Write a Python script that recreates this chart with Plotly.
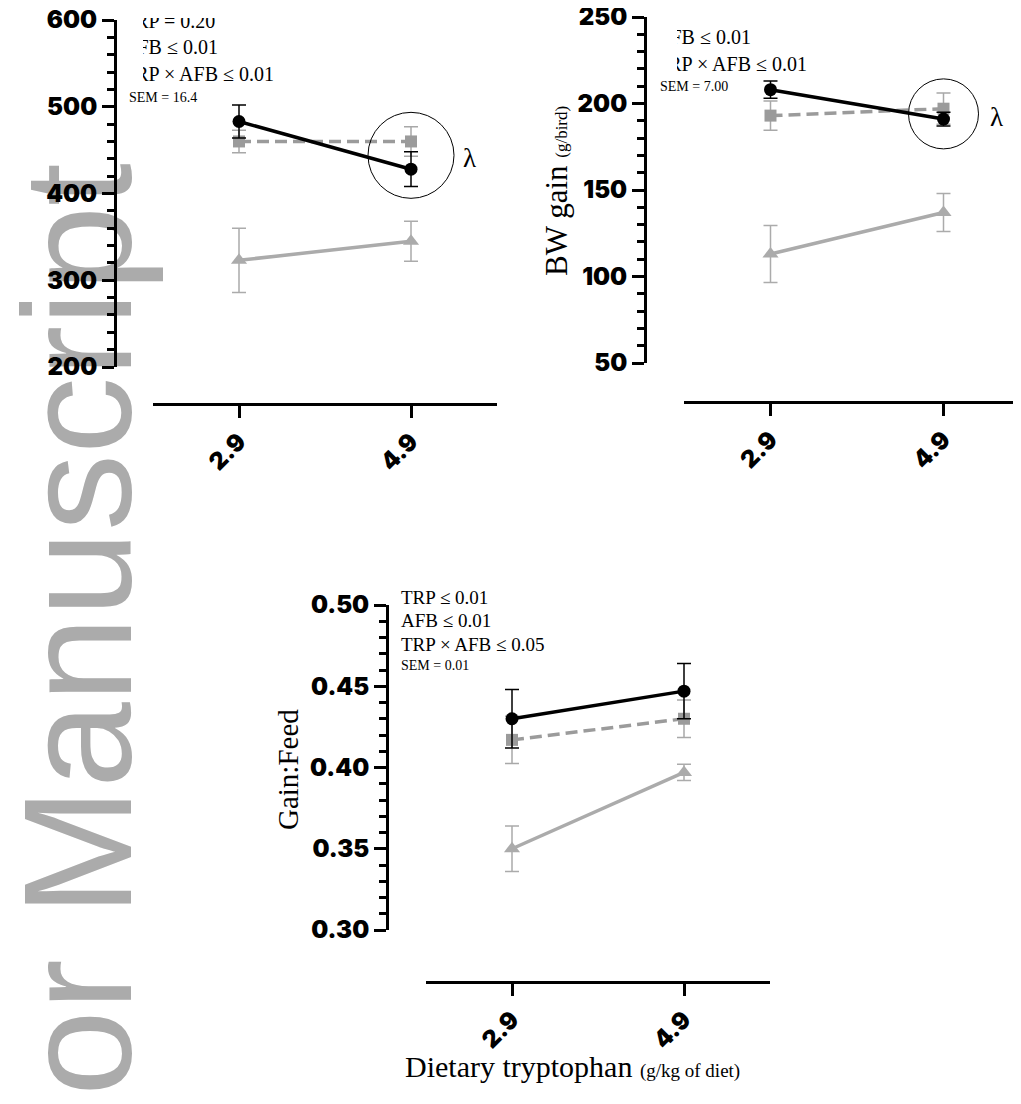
import plotly.graph_objects as go

# The page body has an 8px default margin; work in screen pixels and convert.
OFF = 8
W, H = 1021 - OFF, 1104 - OFF

def px(x):
    return (x - OFF) / W

def py(y):
    return 1 - (y - OFF) / H

# ---------------- data ----------------
trp_levels = [2.9, 4.9]
trp_ticktext = ["2.9", "4.9"]

# Panel A: feed intake (g/bird)
fi_circle = [483, 428]
fi_circle_err = [19, 20]
fi_square = [460, 460]
fi_square_err = [13, 17]
fi_triangle = [323, 345]
fi_triangle_err = [37, 23]
fi_yticks = [200, 300, 400, 500, 600]
fi_stats = ["TRP = 0.20", "AFB \u2264 0.01", "TRP \u00d7 AFB \u2264 0.01"]
fi_sem = "SEM = 16.4"

# Panel B: BW gain (g/bird)
bw_circle = [208, 191]
bw_circle_err = [5, 4]
bw_square = [193, 197]
bw_square_err = [8.5, 9]
bw_triangle = [113, 137]
bw_triangle_err = [16.5, 11]
bw_yticks = [50, 100, 150, 200, 250]
bw_stats = ["AFB \u2264 0.01", "TRP \u00d7 AFB \u2264 0.01"]
bw_sem = "SEM = 7.00"

# Panel C: gain:feed
gf_circle = [0.430, 0.447]
gf_circle_err = [0.018, 0.017]
gf_square = [0.417, 0.430]
gf_square_err = [0.0145, 0.0115]
gf_triangle = [0.350, 0.397]
gf_triangle_err = [0.014, 0.005]
gf_yticks = [0.30, 0.35, 0.40, 0.45, 0.50]
gf_yticktext = ["0.30", "0.35", "0.40", "0.45", "0.50"]
gf_stats = ["TRP \u2264 0.01", "AFB \u2264 0.01", "TRP \u00d7 AFB \u2264 0.05"]
gf_sem = "SEM = 0.01"

# ---------------- styles ----------------
BLACK = "#000000"
SQ_COL = "#9b9b9b"
TRI_COL = "#ababab"
SQ_ERR = "#a8a8a8"
TICKFONT = dict(family="Inter, Liberation Sans, Arial, sans-serif", size=24, color="black", weight=900)
SERIF = "Liberation Serif, Times New Roman, serif"

fig = go.Figure()

panels = [
    dict(circle=fi_circle, cerr=fi_circle_err, square=fi_square, serr=fi_square_err,
         tri=fi_triangle, terr=fi_triangle_err, yticks=fi_yticks, yticktext=[str(v) for v in fi_yticks],
         yrange=[200, 600], minor=20,
         xdom=[px(153), px(497)], xrange=[1.9, 5.9], xpos=py(404),
         ydom=[py(367), py(20)], ypos=px(115)),
    dict(circle=bw_circle, cerr=bw_circle_err, square=bw_square, serr=bw_square_err,
         tri=bw_triangle, terr=bw_triangle_err, yticks=bw_yticks, yticktext=[str(v) for v in bw_yticks],
         yrange=[50, 250], minor=10,
         xdom=[px(684), 1.0], xrange=[1.9, 1.9 + (1021 - 684) / 86.5], xpos=py(402),
         ydom=[py(363), py(17)], ypos=px(645)),
    dict(circle=gf_circle, cerr=gf_circle_err, square=gf_square, serr=gf_square_err,
         tri=gf_triangle, terr=gf_triangle_err, yticks=gf_yticks, yticktext=gf_yticktext,
         yrange=[0.30, 0.50], minor=0.01,
         xdom=[px(426), px(770)], xrange=[1.9, 5.9], xpos=py(982),
         ydom=[py(930), py(605)], ypos=px(387)),
]

layout_axes = {}
for i, p in enumerate(panels):
    suffix = "" if i == 0 else str(i + 1)
    xa, ya = "x" + suffix, "y" + suffix
    fig.add_trace(go.Scatter(
        x=trp_levels, y=p["tri"], xaxis=xa, yaxis=ya, mode="lines+markers",
        line=dict(color=TRI_COL, width=3.5),
        marker=dict(symbol="triangle-up", size=14, color=TRI_COL),
        error_y=dict(type="data", array=p["terr"], visible=True, color=TRI_COL, thickness=1.5, width=7),
        showlegend=False, cliponaxis=False))
    fig.add_trace(go.Scatter(
        x=trp_levels, y=p["square"], xaxis=xa, yaxis=ya, mode="lines+markers",
        line=dict(color=SQ_COL, width=3.5, dash="12px,6px"),
        marker=dict(symbol="square", size=12, color=SQ_COL),
        error_y=dict(type="data", array=p["serr"], visible=True, color=SQ_ERR, thickness=1.5, width=7),
        showlegend=False, cliponaxis=False))
    fig.add_trace(go.Scatter(
        x=trp_levels, y=p["circle"], xaxis=xa, yaxis=ya, mode="lines+markers",
        line=dict(color=BLACK, width=3.5),
        marker=dict(symbol="circle", size=13, color=BLACK),
        error_y=dict(type="data", array=p["cerr"], visible=True, color=BLACK, thickness=1.5, width=7),
        showlegend=False, cliponaxis=False))

    layout_axes["xaxis" + suffix] = dict(
        domain=p["xdom"], range=p["xrange"], anchor="free", position=p["xpos"], side="bottom",
        showline=True, linewidth=3, linecolor="black", ticks="outside", ticklen=12, tickwidth=3,
        tickcolor="black", tickvals=trp_levels, ticktext=trp_ticktext, tickangle=-45,
        tickfont=TICKFONT, showgrid=False, zeroline=False, automargin=False, fixedrange=True,
        ticklabeloverflow="allow")
    layout_axes["yaxis" + suffix] = dict(
        domain=p["ydom"], range=p["yrange"], anchor="free", position=p["ypos"], side="left",
        showline=True, linewidth=3, linecolor="black", ticks="outside", ticklen=12, tickwidth=3,
        tickcolor="black", tickvals=p["yticks"], ticktext=p["yticktext"], tickfont=TICKFONT,
        minor=dict(ticks="outside", ticklen=7, tickwidth=3, tickcolor="black", dtick=p["minor"],
                   tick0=p["yrange"][0]),
        showgrid=False, zeroline=False, automargin=False, fixedrange=True,
        ticklabeloverflow="allow")

fig.update_layout(**layout_axes)

annotations = []
shapes = []

# watermark (drawn below axes)
WM_SIZE = 154
wm_cx, wm_cy = 63, 788
shapes.append(dict(
    type="rect", xref="paper", yref="paper", layer="below",
    x0=px(wm_cx - 40), x1=px(wm_cx + 40), y0=py(wm_cy + 40), y1=py(wm_cy - 40),
    line=dict(width=0), fillcolor="rgba(0,0,0,0)",
    label=dict(text="Author Manuscript", textangle=-90, textposition="middle center",
               font=dict(family="Liberation Sans, Arial, sans-serif", size=WM_SIZE, color="#ababab"))))

def stat_lines(lines, x_left, y_centers, size):
    for t, yc in zip(lines, y_centers):
        annotations.append(dict(text=t, xref="paper", yref="paper", x=px(x_left), y=py(yc),
                                xanchor="left", yanchor="middle", showarrow=False, borderpad=0,
                                font=dict(family=SERIF, size=size, color="black")))

# panel 1 statistics
stat_lines(fi_stats, 122, [21, 47, 74], 20)
stat_lines([fi_sem], 128, [97], 14)
# panel 2 statistics
stat_lines(bw_stats, 655, [37, 64], 20)
stat_lines([bw_sem], 659, [87], 14)
# panel 3 statistics
stat_lines(gf_stats, 400, [597, 620, 644], 19)
stat_lines([gf_sem], 400, [665], 14)

# masks reproducing the cropped edges of the original figure
def mask(x0, y0, x1, y1):
    annotations.append(dict(text=" ", xref="paper", yref="paper", x=px(x0), y=py(y0),
                            xanchor="left", yanchor="top", showarrow=False, borderpad=0,
                            borderwidth=0, width=x1 - x0, height=y1 - y0, bgcolor="white"))

mask(118, 0, 143, 86)
mask(118, 0, 330, 18)
mask(648, 0, 677, 75)

# highlight circles + lambda
circ = [("x", "y", (fi_circle[1] + fi_square[1]) / 2, 43, 58),
        ("x2", "y2", (bw_circle[1] + bw_square[1]) / 2, 35, 53)]
for xr, yr, yc, r, shift in circ:
    shapes.append(dict(type="circle", xref=xr, yref=yr, xsizemode="pixel", ysizemode="pixel",
                       xanchor=trp_levels[1], yanchor=yc, x0=-r, x1=r, y0=-r, y1=r,
                       line=dict(color="black", width=1), layer="above"))
    annotations.append(dict(text="\u03bb", xref=xr, yref=yr, x=trp_levels[1], y=yc,
                            xshift=shift, yshift=-3, showarrow=False,
                            xanchor="center", yanchor="middle",
                            font=dict(family=SERIF, size=27, color="black")))

# axis titles
annotations.append(dict(text="BW gain <span style='font-size:17px'>(g/bird)</span>",
                        xref="paper", yref="paper", x=px(557), y=py(191), textangle=-90,
                        xanchor="center", yanchor="middle",
                        showarrow=False, font=dict(family=SERIF, size=31, color="black")))
annotations.append(dict(text="Gain:Feed", xref="paper", yref="paper", x=px(288), y=py(770),
                        textangle=-90, showarrow=False, xanchor="center", yanchor="middle",
                        font=dict(family=SERIF, size=29, color="black")))
annotations.append(dict(text="Dietary tryptophan <span style='font-size:19px'>(g/kg of diet)</span>",
                        xref="paper", yref="paper", x=px(572), y=py(1066), showarrow=False,
                        xanchor="center", yanchor="middle",
                        font=dict(family=SERIF, size=30, color="black")))

fig.update_layout(
    width=W, height=H, template="none",
    margin=dict(l=0, r=0, t=0, b=0, autoexpand=False),
    paper_bgcolor="white", plot_bgcolor="rgba(0,0,0,0)",
    showlegend=False, annotations=annotations, shapes=shapes)

fig.write_html("out.html")
